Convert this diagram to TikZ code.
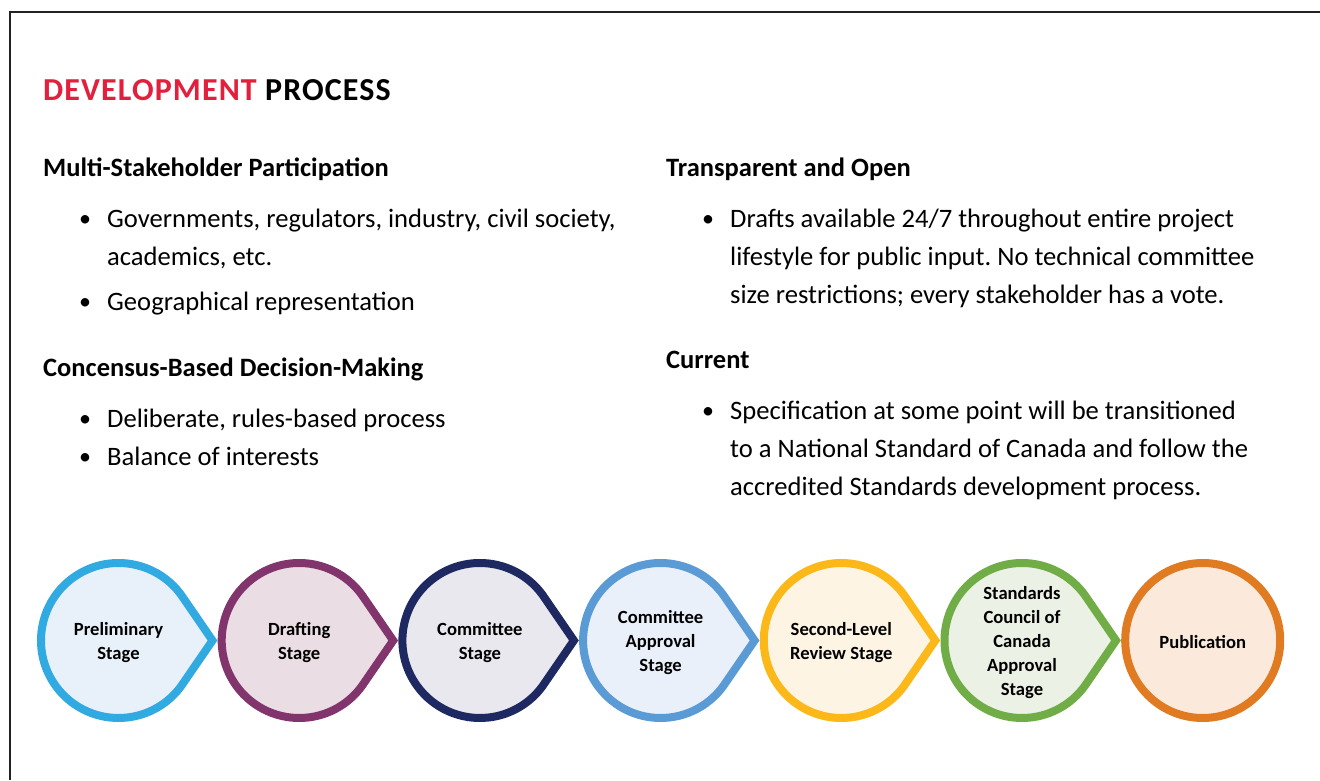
\documentclass[tikz,border=0pt]{standalone}
\usepackage{fontspec}
\setmainfont{Carlito}
\newfontfamily\titlefont[LetterSpace=3.5]{Carlito}
\usetikzlibrary{calc}
\frenchspacing

\definecolor{titlered}{HTML}{E21F3D}
\definecolor{frameline}{HTML}{222222}
% stage outline / fill pairs
\definecolor{sAline}{HTML}{31A9E1}\definecolor{sAfill}{HTML}{E8F1FA}
\definecolor{sBline}{HTML}{82356C}\definecolor{sBfill}{HTML}{EADDE4}
\definecolor{sCline}{HTML}{1F2961}\definecolor{sCfill}{HTML}{E8E8EE}
\definecolor{sDline}{HTML}{5B9BD5}\definecolor{sDfill}{HTML}{EAF0FA}
\definecolor{sEline}{HTML}{FBB818}\definecolor{sEfill}{HTML}{FEF4E3}
\definecolor{sFline}{HTML}{70AD47}\definecolor{sFfill}{HTML}{EBF1E5}
\definecolor{sGline}{HTML}{E07B22}\definecolor{sGfill}{HTML}{FBEADC}

% pointed stage shape: centre x, outline colour, fill colour
\newcommand\stagedrop[3]{%
  \draw[dropline, draw=#2, fill=#3] (#1,139.5) ++(36:77.5)
    arc[start angle=36, end angle=324, radius=77.5pt] -- (#1+94,139.5) -- cycle;}
% plain round stage: centre x, outline colour, fill colour
\newcommand\stageround[3]{%
  \draw[dropline, draw=#2, fill=#3] (#1,139.5) circle[radius=77.5pt];}

\begin{document}
\begin{tikzpicture}[x=1pt,y=1pt,
  titletext/.style={anchor=base west, inner sep=0pt, font=\titlefont\fontsize{32}{38}\selectfont\bfseries},
  heading/.style={anchor=base west, inner sep=0pt, font=\fontsize{26.5}{31}\selectfont\bfseries},
  body/.style={anchor=base west, inner sep=0pt, font=\fontsize{26.6}{31}\selectfont},
  bulletmark/.style={anchor=base west, inner sep=0pt, font=\fontsize{24}{29}\selectfont},
  stagetext/.style={align=center, inner sep=0pt, font=\fontsize{18.6}{24}\selectfont\bfseries},
  dropline/.style={line width=8pt, line join=miter},
]
\useasboundingbox (0,0) rectangle (1320,780);

% page frame (left and top edges)
\draw[line width=1.5pt, frameline] (10,0) -- (10,768) -- (1320,768);

% title
\node[titletext] (title) at (43,679) {\textcolor{titlered}{DEVELOPMENT} PROCESS};

% left column
\node[heading] (h1) at (43,603) {Multi-Stakeholder Participation};
\node[bulletmark] (b1) at (79,553) {•};
\node[body] (l1a) at (107,552) {Governments, regulators, industry, civil society,};
\node[body] (l1b) at (107,514) {academics, etc.};
\node[bulletmark] (b2) at (79,470) {•};
\node[body] (l2) at (107,469) {Geographical representation};

\node[heading] (h2) at (43,403) {Concensus-Based Decision-Making};
\node[bulletmark] (b3) at (79,353) {•};
\node[body] (l3) at (107,352) {Deliberate, rules-based process};
\node[bulletmark] (b4) at (79,315) {•};
\node[body] (l4) at (107,314) {Balance of interests};

% right column
\node[heading] (h3) at (666,603) {Transparent and Open};
\node[bulletmark] (b5) at (702,553) {•};
\node[body] (r1a) at (730,552) {Drafts available 24/7 throughout entire project};
\node[body] (r1b) at (730,514) {lifestyle for public input. No technical committee};
\node[body] (r1c) at (730,476) {size restrictions; every stakeholder has a vote.};

\node[heading] (h4) at (666,411) {Current};
\node[bulletmark] (b6) at (702,361) {•};
\node[body] (r2a) at (730,360) {Specification at some point will be transitioned};
\node[body] (r2b) at (730,322) {to a National Standard of Canada and follow the};
\node[body] (r2c) at (730,284) {accredited Standards development process.};

% process stages
\stagedrop{118.5}{sAline}{sAfill}
\stagedrop{299.2}{sBline}{sBfill}
\stagedrop{479.9}{sCline}{sCfill}
\stagedrop{660.6}{sDline}{sDfill}
\stagedrop{841.3}{sEline}{sEfill}
\stagedrop{1022.0}{sFline}{sFfill}
\stageround{1202.7}{sGline}{sGfill}

\node[stagetext] (s1) at (118.5,137.5) {Preliminary\\Stage};
\node[stagetext] (s2) at (299.2,137.5) {Drafting\\Stage};
\node[stagetext] (s3) at (479.9,137.5) {Committee\\Stage};
\node[stagetext] (s4) at (660.6,137.5) {Committee\\Approval\\Stage};
\node[stagetext] (s5) at (841.3,137.5) {Second-Level\\Review Stage};
\node[stagetext] (s6) at (1022.0,137.5) {Standards\\Council of\\Canada\\Approval\\Stage};
\node[stagetext] (s7) at (1202.7,137.5) {Publication};
\end{tikzpicture}
\end{document}
